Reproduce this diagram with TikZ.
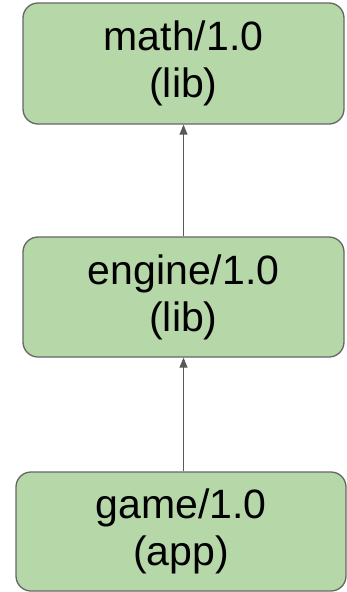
\documentclass[tikz,border=0pt]{standalone}
\usepackage{fontspec}
\setmainfont{Liberation Sans}
\usepackage{tikz}
\usetikzlibrary{shapes,arrows.meta,positioning}
\usepackage{xcolor}
\definecolor{pkgfill}{HTML}{B6D7A8}
\definecolor{pkgline}{HTML}{666666}
\definecolor{deparrow}{HTML}{595959}

\begin{document}
\begin{tikzpicture}[x=1pt, y=1pt,
    pkg/.style={draw=pkgline, line width=1.3pt, fill=pkgfill, rectangle, rounded corners=15pt,
        align=center, inner sep=0pt, font=\fontsize{41}{47}\selectfont},
    dep/.style={draw=deparrow, line width=1pt, -{Triangle[length=10pt, width=8pt]}}]
    \useasboundingbox (0,0) rectangle (347,-592);

    \node[pkg, minimum width=321pt, minimum height=121pt] (math) at (183.5,-63.5) {math/1.0\\(lib)};
    \node[pkg, minimum width=321pt, minimum height=120pt] (engine) at (183.5,-297) {engine/1.0\\(lib)};
    \node[pkg, minimum width=330pt, minimum height=119pt] (game) at (181,-531.5) {game/1.0\\(app)};

    \draw[dep] (engine) -- (math);
    \draw[dep] (engine.south |- game.north) -- (engine.south);
\end{tikzpicture}
\end{document}
